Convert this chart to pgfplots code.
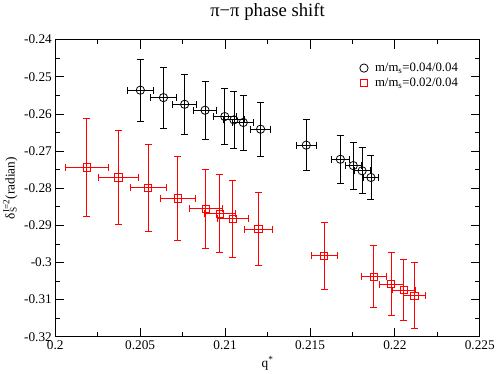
\documentclass[border=0pt]{standalone}
\usepackage{fontspec}
\setmainfont{Liberation Serif}
\usepackage{pgfplots}
\pgfplotsset{compat=1.18}
\definecolor{grred}{HTML}{FF0000}
\begin{document}
\begin{tikzpicture}
\begin{axis}[
  scale only axis, width=430bp, height=301bp,
  xmin=0.2, xmax=0.225, ymin=-0.32, ymax=-0.24,
  xtick={0.2,0.205,0.21,0.215,0.22,0.225},
  ytick={-0.32,-0.31,-0.3,-0.29,-0.28,-0.27,-0.26,-0.25,-0.24},
  minor x tick num=1, minor y tick num=1,
  scaled ticks=false,
  tick align=inside, major tick length=9bp, minor tick length=4.5bp,
  tick style={black, line width=0.8bp},
  axis line style={black, line width=1.1bp},
  xticklabel style={/pgf/number format/fixed, /pgf/number format/precision=3},
  yticklabel style={/pgf/number format/fixed, /pgf/number format/precision=2},
  /pgf/number format/assume math mode=true,
  tick label style={font=\fontsize{13.5}{15}\selectfont},
  title={π−π phase shift},
  title style={font=\fontsize{19}{21}\selectfont, yshift=10bp},
  xlabel={q\textsuperscript{*}},
  ylabel={δ\rlap{\textsubscript{S}}\textsuperscript{I=2}(radian)},
  label style={font=\fontsize{13.5}{15}\selectfont},
  legend style={draw=none, fill=none, at={(0.71,0.935)}, anchor=north west,
    font=\fontsize{13}{15}\selectfont, row sep=1pt,
    /tikz/every odd column/.append style={column sep=5bp}},
  legend cell align=left,
]
\addplot[only marks, mark=o, mark size=4.2bp, black, line width=0.8bp,
  error bars/.cd, x dir=both, y dir=both, x explicit, y explicit,
  error bar style={line width=0.8bp, black},
  error mark options={rotate=90, mark size=3.5bp, line width=0.8bp, black}]
coordinates {
(0.20501,-0.2536) +- (0.00075,0.0084)
(0.20637,-0.2556) +- (0.00074,0.0082)
(0.20762,-0.2574) +- (0.00071,0.0081)
(0.20882,-0.2590) +- (0.00068,0.0078)
(0.20998,-0.2607) +- (0.00066,0.0076)
(0.21052,-0.2616) +- (0.00064,0.0076)
(0.21107,-0.2623) +- (0.00062,0.0074)
(0.21209,-0.2641) +- (0.00060,0.0073)
(0.21478,-0.2684) +- (0.00058,0.0068)
(0.21679,-0.2722) +- (0.00051,0.0064)
(0.21755,-0.2739) +- (0.00049,0.0063)
(0.21807,-0.2753) +- (0.00048,0.0062)
(0.21859,-0.2771) +- (0.00046,0.0059)
};
\addlegendentry{m/m\textsubscript{s}=0.04/0.04}
\addplot[only marks, mark=square, mark size=3.7bp, grred, line width=0.8bp,
  error bars/.cd, x dir=both, y dir=both, x explicit, y explicit,
  error bar style={line width=0.8bp, grred},
  error mark options={rotate=90, mark size=3.5bp, line width=0.8bp, grred}]
coordinates {
(0.20186,-0.2744) +- (0.00126,0.0133)
(0.20371,-0.2771) +- (0.00118,0.0126)
(0.20547,-0.2799) +- (0.00107,0.0118)
(0.20721,-0.2827) +- (0.00102,0.0113)
(0.20886,-0.2855) +- (0.00096,0.0107)
(0.20969,-0.2869) +- (0.00092,0.0105)
(0.21045,-0.2882) +- (0.00093,0.0103)
(0.21196,-0.2910) +- (0.00084,0.0098)
(0.21583,-0.2982) +- (0.00077,0.0090)
(0.21875,-0.3038) +- (0.00073,0.0084)
(0.21978,-0.3058) +- (0.00070,0.0084)
(0.22053,-0.3074) +- (0.00070,0.0083)
(0.22115,-0.3089) +- (0.00067,0.0088)
};
\addlegendentry{m/m\textsubscript{s}=0.02/0.04}
\end{axis}
\end{tikzpicture}
\end{document}
